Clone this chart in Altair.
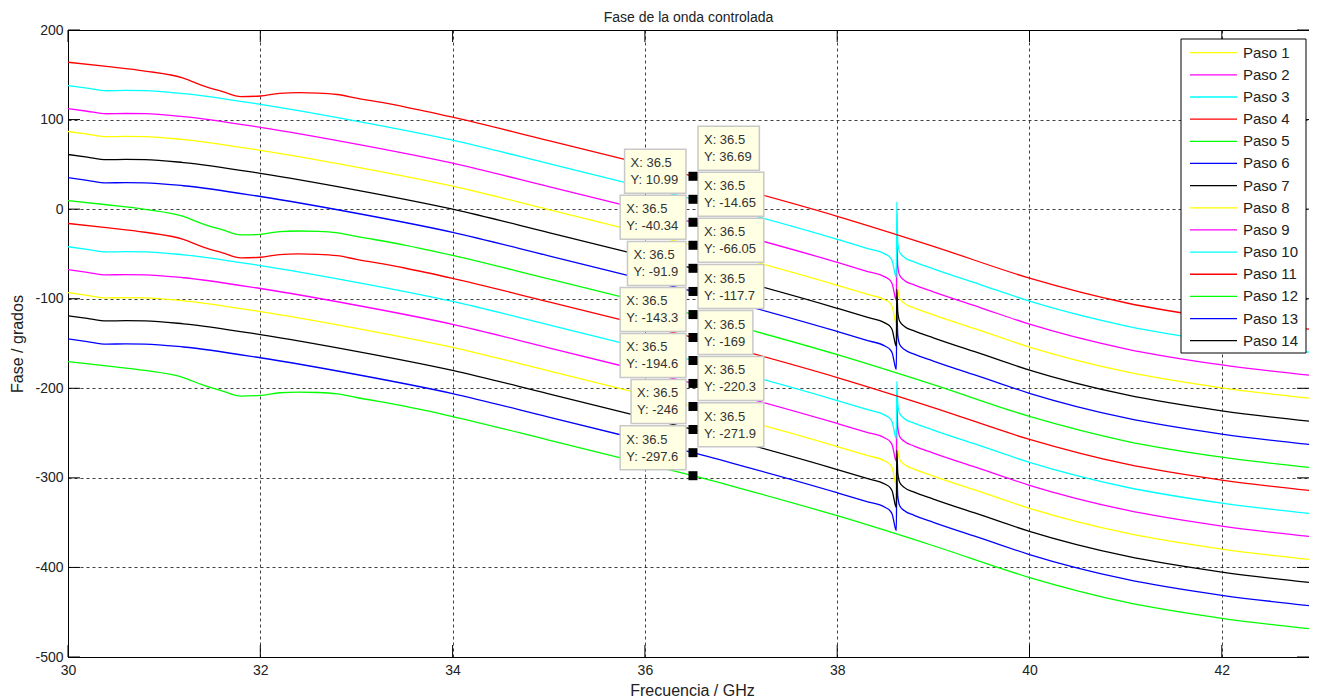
import altair as alt
import pandas as pd

PASOS = [f"Paso {i}" for i in range(1, 15)]
COLORES = ["#ffff00", "#ff00ff", "#00ffff", "#ff0000", "#00ff00", "#0000ff", "#000000"] * 2

# Frequency grids (GHz)
FREQ_A = [30.0, 30.4, 30.8, 31.2, 31.4, 31.6, 31.8, 32.0, 32.2, 32.4, 32.6, 32.8, 33.0, 33.5,
          34.0, 35.0, 36.0, 36.5, 37.0, 38.0, 39.0, 40.0, 41.0, 42.0, 43.0]
FREQ_B = [30.0, 30.2, 30.4, 30.6, 30.8, 31.2, 32.0, 33.0, 34.0, 35.0, 36.0, 36.5, 37.0, 38.0,
          38.3, 38.5, 38.55, 38.575, 38.59, 38.605, 38.615, 38.62, 38.63, 38.65, 38.7, 38.8,
          39.0, 39.5, 40.0, 41.0, 42.0, 43.0]

# Phase (degrees)
FASE_PASO_1 = [86.7, 83.7, 80.9, 81.2, 81.0, 77.7, 65.7, 47.0, 25.7, -0.5, -27.0, -40.34, -54.7, -85.0,
               -94.7, -101.5, -105.2, -110.0, -117.5, -125.0, -127.3, -63.5, -88.8, -99.5, -105.2, -110.2,
               -118.0, -136.0, -154.0, -181.5, -199.5, -212.0]
FASE_PASO_2 = [112.3, 109.3, 106.5, 106.8, 106.6, 103.3, 91.3, 72.6, 51.3, 25.1, -1.4, -14.65, -29.1, -59.4,
               -69.1, -75.9, -79.6, -84.4, -91.9, -99.4, -101.7, -37.9, -63.2, -73.9, -79.6, -84.6,
               -92.4, -110.4, -128.4, -155.9, -173.9, -186.4]
FASE_PASO_3 = [138.0, 135.0, 132.2, 132.5, 132.3, 129.0, 117.0, 98.3, 77.0, 50.8, 24.3, 10.99, -3.4, -33.7,
               -43.4, -50.2, -53.9, -58.7, -66.2, -73.7, -76.0, 7.8, -37.5, -48.2, -53.9, -58.9,
               -66.7, -84.7, -102.7, -130.2, -148.2, -160.7]
FASE_PASO_4 = [164.0, 159.3, 154.2, 146.3, 138.0, 131.5, 125.6, 126.3, 129.3, 130.0, 129.6, 128.0, 124.0, 114.3,
               102.7, 76.5, 50.0, 36.69, 22.3, -8.0, -41.5, -77.0, -104.5, -122.5, -135.0]
FASE_PASO_5 = [9.6, 4.9, -0.2, -8.1, -16.4, -22.9, -28.8, -28.1, -25.1, -24.4, -24.8, -26.4, -30.4, -40.1,
               -51.7, -77.9, -104.4, -117.7, -132.1, -162.4, -195.9, -231.4, -258.9, -276.9, -289.4]
FASE_PASO_6 = [35.1, 32.1, 29.3, 29.6, 29.4, 26.1, 14.1, -4.6, -25.9, -52.1, -78.6, -91.9, -106.3, -136.6,
               -146.3, -153.1, -156.8, -161.6, -169.1, -176.6, -178.9, -115.1, -140.4, -151.1, -156.8, -161.8,
               -169.6, -187.6, -205.6, -233.1, -251.1, -263.6]
FASE_PASO_7 = [61.0, 58.0, 55.2, 55.5, 55.3, 52.0, 40.0, 21.3, 0.0, -26.2, -52.7, -66.05, -80.4, -110.7,
               -120.4, -127.2, -130.9, -135.7, -143.2, -150.7, -153.0, -89.2, -114.5, -125.2, -130.9, -135.9,
               -143.7, -161.7, -179.7, -207.2, -225.2, -237.7]
FASE_PASO_8 = [-93.3, -96.3, -99.1, -98.8, -99.0, -102.3, -114.3, -133.0, -154.3, -180.5, -207.0, -220.3, -234.7, -265.0,
               -274.7, -281.5, -285.2, -290.0, -297.5, -305.0, -307.3, -243.5, -268.8, -279.5, -285.2, -290.2,
               -298.0, -316.0, -334.0, -361.5, -379.5, -392.0]
FASE_PASO_9 = [-67.6, -70.6, -73.4, -73.1, -73.3, -76.6, -88.6, -107.3, -128.6, -154.8, -181.3, -194.6, -209.0, -239.3,
               -249.0, -255.8, -259.5, -264.3, -271.8, -279.3, -281.6, -217.8, -243.1, -253.8, -259.5, -264.5,
               -272.3, -290.3, -308.3, -335.8, -353.8, -366.3]
FASE_PASO_10 = [-42.0, -45.0, -47.8, -47.5, -47.7, -51.0, -63.0, -81.7, -103.0, -129.2, -155.7, -169.0, -183.4, -213.7,
                -223.4, -230.2, -233.9, -238.7, -246.2, -253.7, -256.0, -192.2, -217.5, -228.2, -233.9, -238.9,
                -246.7, -264.7, -282.7, -310.2, -328.2, -340.7]
FASE_PASO_11 = [-16.0, -20.7, -25.8, -33.7, -42.0, -48.5, -54.4, -53.7, -50.7, -50.0, -50.4, -52.0, -56.0, -65.7,
                -77.3, -103.5, -130.0, -143.3, -157.7, -188.0, -221.5, -257.0, -284.5, -302.5, -315.0]
FASE_PASO_12 = [-170.3, -175.0, -180.1, -188.0, -196.3, -202.8, -208.7, -208.0, -205.0, -204.3, -204.7, -206.3, -210.3, -220.0,
                -231.6, -257.8, -284.3, -297.6, -312.0, -342.3, -375.8, -411.3, -438.8, -456.8, -469.3]
FASE_PASO_13 = [-144.9, -147.9, -150.7, -150.4, -150.6, -153.9, -165.9, -184.6, -205.9, -232.1, -258.6, -271.9, -286.3, -316.6,
                -326.3, -333.1, -336.8, -341.6, -349.1, -356.6, -358.9, -295.1, -320.4, -331.1, -336.8, -341.8,
                -349.6, -367.6, -385.6, -413.1, -431.1, -443.6]
FASE_PASO_14 = [-119.0, -122.0, -124.8, -124.5, -124.7, -128.0, -140.0, -158.7, -180.0, -206.2, -232.7, -246.0, -260.4, -290.7,
                -300.4, -307.2, -310.9, -315.7, -323.2, -330.7, -333.0, -269.2, -294.5, -305.2, -310.9, -315.9,
                -323.7, -341.7, -359.7, -387.2, -405.2, -417.7]

SERIES = [
    ("Paso 1", FREQ_B, FASE_PASO_1), ("Paso 2", FREQ_B, FASE_PASO_2), ("Paso 3", FREQ_B, FASE_PASO_3),
    ("Paso 4", FREQ_A, FASE_PASO_4), ("Paso 5", FREQ_A, FASE_PASO_5), ("Paso 6", FREQ_B, FASE_PASO_6),
    ("Paso 7", FREQ_B, FASE_PASO_7), ("Paso 8", FREQ_B, FASE_PASO_8), ("Paso 9", FREQ_B, FASE_PASO_9),
    ("Paso 10", FREQ_B, FASE_PASO_10), ("Paso 11", FREQ_A, FASE_PASO_11), ("Paso 12", FREQ_A, FASE_PASO_12),
    ("Paso 13", FREQ_B, FASE_PASO_13), ("Paso 14", FREQ_B, FASE_PASO_14),
]

# Data tips (X: 36.5)
TIP_FREQ = 36.5
TIP_FASE = [36.69, 10.99, -14.65, -40.34, -66.05, -91.9, -117.7, -143.3, -169, -194.6, -220.3, -246, -271.9, -297.6]

X_TICKS = [30, 32, 34, 36, 38, 40, 42]
Y_TICKS = [-500, -400, -300, -200, -100, 0, 100, 200]

W, H = 1241, 627
PX_PER_GHZ = 96.15          # horizontal scale of the reference
X_MAX = 30 + W / PX_PER_GHZ  # the reference frame is cut at the window edge
FONT = "Liberation Sans"
TXT = "#222222"

rows = []
for paso, fx, fy in SERIES:
    assert len(fx) == len(fy), paso
    for k, (a, b) in enumerate(zip(fx, fy)):
        rows.append({"paso": paso, "freq": a, "fase": b, "k": k})
df = pd.DataFrame(rows)

xs = alt.Scale(domain=[30, X_MAX], nice=False, zero=False)
ys = alt.Scale(domain=[-500, 200], nice=False, zero=False)

x_axis = alt.Axis(values=X_TICKS, grid=True, ticks=False, domain=False, labelFlush=False,
                  labelOverlap=False, labelFontSize=14, labelColor=TXT, labelPadding=6,
                  labelExpr="datum.value + ''",
                  gridColor="#000000", gridOpacity=0.75, gridDash=[3, 3], gridWidth=1,
                  titleFontSize=16, titleFontWeight="normal", titleColor=TXT,
                  titleX=624, titleY=33, titleBaseline="middle", titleAlign="center")
y_axis = alt.Axis(values=Y_TICKS, grid=True, ticks=False, domain=False, labelFlush=False,
                  labelOverlap=False, labelFontSize=14, labelColor=TXT, labelPadding=5,
                  labelExpr="datum.value + ''",
                  gridColor="#000000", gridOpacity=0.75, gridDash=[3, 3], gridWidth=1,
                  titleFontSize=16, titleFontWeight="normal", titleColor=TXT,
                  titleX=-51, titleY=H / 2, titleAngle=-90, titleBaseline="middle", titleAlign="center")

x_enc = alt.X("freq:Q", scale=xs, axis=x_axis, title="Frecuencia / GHz")
y_enc = alt.Y("fase:Q", scale=ys, axis=y_axis, title="Fase / grados")
color_enc = alt.Color("paso:N", scale=alt.Scale(domain=PASOS, range=COLORES), legend=None)

lines = alt.Chart(df).mark_line(interpolate="monotone", strokeWidth=1.3, clip=True).encode(
    x=x_enc, y=y_enc, color=color_enc, order="k:Q"
)

xt = pd.DataFrame({"freq": X_TICKS})
yt = pd.DataFrame({"fase": Y_TICKS})
TL = 12
tick_b = alt.Chart(xt).mark_rule(color="black", strokeWidth=1).encode(x=x_enc, y=alt.value(H), y2=alt.value(H - TL))
tick_t = alt.Chart(xt).mark_rule(color="black", strokeWidth=1).encode(x=x_enc, y=alt.value(0), y2=alt.value(TL))
tick_l = alt.Chart(yt).mark_rule(color="black", strokeWidth=1).encode(y=y_enc, x=alt.value(0), x2=alt.value(TL))
tick_r = alt.Chart(yt).mark_rule(color="black", strokeWidth=1).encode(y=y_enc, x=alt.value(W), x2=alt.value(W - TL))

# data-tip boxes
CW = {"X": 8.67, "Y": 8.67, ":": 3.61, " ": 3.61, ".": 3.61, "-": 4.33}
def text_w(s):
    return sum(CW.get(c, 7.23) for c in s)

tips = pd.DataFrame({
    "freq": [TIP_FREQ] * len(TIP_FASE),
    "fase": TIP_FASE,
    "i": list(range(len(TIP_FASE))),
    "texto": [f"X: {TIP_FREQ:g}\nY: {v:g}" for v in TIP_FASE],
})

tip_layers = []
for i, v in enumerate(TIP_FASE):
    w = max(text_w(f"X: {TIP_FREQ:g}"), text_w(f"Y: {v:g}")) + 13
    x0 = 5 if i % 2 == 0 else -7 - w
    path = f"M{x0:.1f},-50H{x0 + w:.1f}V-6H{x0:.1f}Z"
    base = alt.Chart(tips).transform_filter(alt.datum.i == i)
    box = base.mark_point(shape=path, size=4, filled=True, fill="#ffffe4", stroke="#c8c8c8",
                          strokeWidth=1.5, opacity=1, fillOpacity=1, strokeOpacity=1).encode(x=x_enc, y=y_enc)
    txt = base.mark_text(align="left", baseline="middle", dx=x0 + 6, dy=-36, lineBreak="\n",
                         lineHeight=17, fontSize=13, color="#333333", font=FONT).encode(
        x=x_enc, y=y_enc, text="texto:N")
    tip_layers += [box, txt]

markers = alt.Chart(tips).mark_square(size=81, color="black", opacity=1).encode(x=x_enc, y=y_enc)

main = alt.layer(lines, tick_b, tick_t, tick_l, tick_r, *tip_layers, markers)

# legend box (drawn by hand so the line samples stay short)
leg_df = pd.DataFrame({"paso": PASOS, "n": list(range(1, len(PASOS) + 1))})
ly = alt.Y("n:Q", scale=alt.Scale(domain=[1, 14], range=[22.7, 310.7], nice=False, zero=False), axis=None)
bg = alt.Chart(pd.DataFrame({"k": [0]})).mark_rect(fill="white", stroke="black", strokeWidth=1).encode(
    x=alt.value(1113), x2=alt.value(1238), y=alt.value(9), y2=alt.value(323))
leg_rules = alt.Chart(leg_df).mark_rule(strokeWidth=1.3).encode(
    x=alt.value(1122), x2=alt.value(1169), y=ly, color=color_enc)
leg_text = alt.Chart(leg_df).mark_text(align="left", baseline="middle", fontSize=15, color=TXT, font=FONT).encode(
    x=alt.value(1175), y=ly, text="paso:N")
legend = alt.layer(bg, leg_rules, leg_text)

chart = alt.layer(main, legend).resolve_scale(y="independent").properties(
    width=W, height=H,
    padding={"left": 60, "top": 22, "right": 0, "bottom": 41},
    autosize=alt.AutoSizeParams(type="none"),
    title=alt.TitleParams(text="Fase de la onda controlada", fontSize=14, fontWeight="normal",
                          color=TXT, anchor="middle", offset=0, dy=2, font=FONT),
    background="white",
).configure(font=FONT).configure_view(stroke="black", strokeWidth=1)

chart.save("out.html", embed_options={"renderer": "svg", "actions": False})
